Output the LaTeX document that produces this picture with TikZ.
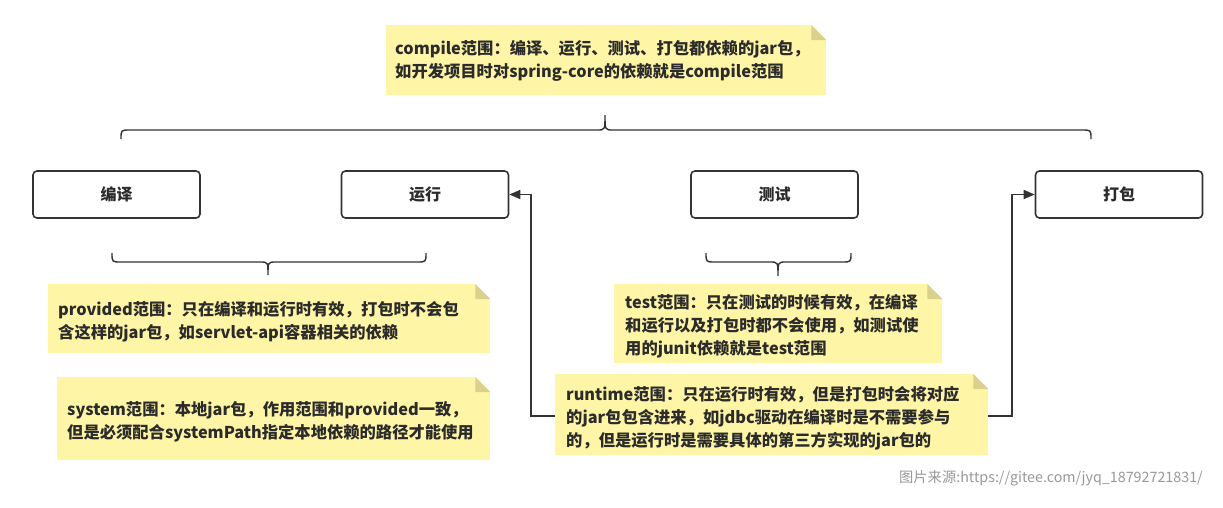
\documentclass[tikz,border=0pt]{standalone}
\usepackage{fontspec}
\setmainfont{Noto Sans CJK SC}
\newfontfamily\wmfont{Noto Sans CJK SC}
\usetikzlibrary{arrows.meta,calc}
\definecolor{notey}{HTML}{FFF5A6}
\definecolor{foldc}{HTML}{D9D18C}
\definecolor{linec}{HTML}{333333}
\definecolor{txtc}{HTML}{2B2B2B}
\tikzset{
  x=1pt, y=-1pt,
  stagebox/.style={draw=linec, line width=1.6pt, rounded corners=4pt, minimum width=167pt, minimum height=47pt, inner sep=0pt, font=\fontsize{16}{18}\selectfont\bfseries, text=txtc},
  notebox/.style={fill=notey, draw=none, inner sep=0pt, anchor=north west},
  notetext/.style={anchor=west, align=left, inner sep=0pt, font=\fontsize{16.3}{23}\selectfont\bfseries, text=txtc},
  bracel/.style={draw=linec, line width=1.4pt},
  conn/.style={draw=linec, line width=1.6pt, -{Triangle[length=11pt,width=9pt]}},
}
\newcommand{\notefold}[1]{%
  \fill[white] ($(#1.north east)+(-15,0)$) -- (#1.north east) -- ($(#1.north east)+(0,15)$) -- cycle;
  \fill[foldc] ($(#1.north east)+(-15,0)$) -- ($(#1.north east)+(0,15)$) -- ($(#1.north east)+(-15,15)$) -- cycle;
}
\begin{document}
\begin{tikzpicture}
\useasboundingbox (0,0) rectangle (1223,507);
\fill[white] (0,0) rectangle (1223,507);

% stage boxes
\node[stagebox] (by) at (116.5,194.5) {编译};
\node[stagebox] (yx) at (425,194.5) {运行};
\node[stagebox] (cs) at (774.5,194.5) {测试};
\node[stagebox] (db) at (1119,194.5) {打包};

% notes
\node[notebox, minimum width=440pt, minimum height=70pt] (cpbox) at (386,25) {};
\notefold{cpbox}
\node[notetext] (cptext) at (395,61) {compile范围：编译、运行、测试、打包都依赖的jar包，\\如开发项目时对spring-core的依赖就是compile范围};

\node[notebox, minimum width=442pt, minimum height=69pt] (pvbox) at (48,284) {};
\notefold{pvbox}
\node[notetext] (pvtext) at (58,322) {provided范围：只在编译和运行时有效，打包时不会包\\含这样的jar包，如servlet-api容器相关的依赖};

\node[notebox, minimum width=433pt, minimum height=83pt] (sybox) at (57,377) {};
\notefold{sybox}
\node[notetext] (sytext) at (67,421.5) {system范围：本地jar包，作用范围和provided一致，\\但是必须配合systemPath指定本地依赖的路径才能使用};

\node[notebox, minimum width=328pt, minimum height=79pt] (tsbox) at (614,284) {};
\notefold{tsbox}
\node[notetext] (tstext) at (625,326) {test范围：只在测试的时候有效，在编译\\和运行以及打包时都不会使用，如测试使\\用的junit依赖就是test范围};

\node[notebox, minimum width=433pt, minimum height=81pt] (rtbox) at (555,374) {};
\notefold{rtbox}
\node[notetext] (rttext) at (566,418) {runtime范围：只在运行时有效，但是打包时会将对应\\的jar包包含进来，如jdbc驱动在编译时是不需要参与\\的，但是运行时是需要具体的第三方实现的jar包的};

% braces
\draw[bracel] (121,139) .. controls (121,130) .. (130,130) -- (597,130)
  .. controls (605,130) .. (605,115) .. controls (605,130) .. (613,130) -- (1082,130)
  .. controls (1091,130) .. (1091,139);
\draw[bracel] (112,253) .. controls (112,262) .. (121,262) -- (260,262)
  .. controls (268,262) .. (268,275) .. controls (268,262) .. (276,262) -- (417,262)
  .. controls (426,262) .. (426,253);
\draw[bracel] (706,253) .. controls (706,262) .. (715,262) -- (770,262)
  .. controls (778,262) .. (778,276) .. controls (778,262) .. (786,262) -- (842,262)
  .. controls (851,262) .. (851,253);

% connectors
\coordinate (lk) at (531,416);
\coordinate (rk) at (1012,416);
\draw[conn] (rtbox.west |- lk) -- (lk) |- (yx.east);
\draw[conn] (rtbox.east |- rk) -- (rk) |- (db.west);

% watermark
\node[anchor=east, inner sep=0pt, font=\wmfont\fontsize{14.3}{16}\selectfont, text=black!40] (wm) at (1203,478) {图片来源:https://gitee.com/jyq\_18792721831/};
\end{tikzpicture}
\end{document}
